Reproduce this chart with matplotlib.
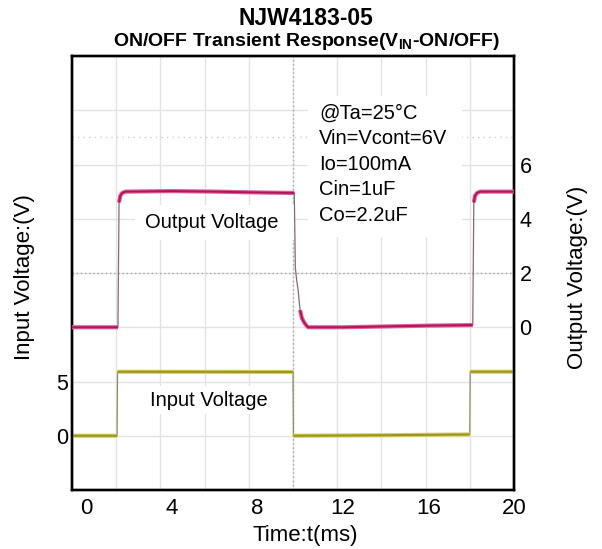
import matplotlib
matplotlib.use('Agg')
import matplotlib.pyplot as plt
import numpy as np
from matplotlib.patches import Rectangle

plt.rcParams['font.family'] = ['Liberation Sans', 'DejaVu Sans']
plt.rcParams['mathtext.fontset'] = 'custom'
plt.rcParams['mathtext.rm'] = 'Liberation Sans:bold'
plt.rcParams['mathtext.it'] = 'Liberation Sans:bold'
plt.rcParams['mathtext.bf'] = 'Liberation Sans:bold'

# scope traces (time in ms, volts)
out_t = [-0.68, 1.47, 1.52, 1.58, 1.67, 1.82, 4.0, 6.0, 8.0, 9.72, 9.77, 9.83, 9.90,
         9.99, 10.08, 10.18, 10.28, 10.37, 12.0, 14.0, 16.0, 18.07, 18.12, 18.18,
         18.27, 18.42, 20.0]
out_v = [0.0, 0.0, 4.6, 4.85, 4.95, 5.0, 5.02, 5.0, 4.97, 4.95, 2.2, 1.75, 1.36,
         0.63, 0.33, 0.18, 0.07, 0.0, 0.0, 0.03, 0.06, 0.08, 4.6, 4.85,
         4.95, 5.0, 5.0]

in_t = [-0.68, 1.43, 1.45, 9.66, 9.68, 14.0, 17.93, 17.95, 20.0]
in_v = [0.0, 0.0, 5.9, 5.88, 0.0, 0.05, 0.12, 5.9, 5.9]

x_ticks = [0, 4, 8, 12, 16, 20]
in_ticks = [0, 5]
out_ticks = [0, 2, 4, 6]

conditions = ['@Ta=25°C', 'Vin=Vcont=6V', 'Io=100mA', 'Cin=1uF', 'Co=2.2uF']


def split_trace(t, v, steep=5.0):
    # thick band on the flat parts, thin line on the fast edges
    t = np.asarray(t)
    v = np.asarray(v)
    thick_t, thick_v = [t[0]], [v[0]]
    for i in range(1, len(t)):
        slope = abs(v[i] - v[i - 1]) / (t[i] - t[i - 1])
        if slope > steep:
            thick_t.append(np.nan)
            thick_v.append(np.nan)
        thick_t.append(t[i])
        thick_v.append(v[i])
    return thick_t, thick_v


W, H = 602, 549
fig = plt.figure(figsize=(W / 100, H / 100), dpi=100)
pos = [72 / W, 59 / H, 442 / W, 434 / H]

# oscilloscope graticule: 10 x 8 divisions
gax = fig.add_axes(pos)
gax.set_xlim(0, 10)
gax.set_ylim(0, 8)
gax.set_xticks(range(11))
gax.set_yticks(range(9))
gax.grid(True, color='#e3e3e3', lw=1.0)
gax.tick_params(length=0, labelbottom=False, labelleft=False)
for s in gax.spines.values():
    s.set_visible(False)
gax.axvline(5, color='#a8a8a8', lw=1.0, ls=(0, (1, 2)))
gax.axhline(4, color='#a8a8a8', lw=1.0, ls=(0, (1, 2)))
gax.axhline(6.5, color='#d0d0d0', lw=1.0, ls=(0, (1, 3)))

ax = fig.add_axes(pos, facecolor='none')
ax.set_xlim(-0.68, 20.0)
ax.set_ylim(-5, 35)
ax.set_xticks(x_ticks)
ax.set_yticks(in_ticks)
ax.tick_params(axis='x', length=0, pad=6, labelsize=16)
ax.tick_params(axis='y', length=0, pad=3, labelsize=15.5)

ax2 = ax.twinx()
ax2.set_ylim(-6, 10)
ax2.set_yticks(out_ticks)
ax2.tick_params(axis='y', length=0, pad=4, labelsize=15.5)

for a in (ax, ax2):
    for s in a.spines.values():
        s.set_color('black')
        s.set_linewidth(1.7)

# white boxes behind the labels
for x0, y0, x1, y1 in [(135, 205, 294, 240), (308, 96, 462, 237), (144, 386, 275, 414)]:
    ax.add_patch(Rectangle((x0 / W, 1 - y1 / H), (x1 - x0) / W, (y1 - y0) / H,
                           transform=fig.transFigure, facecolor='white',
                           edgecolor='none', zorder=1))

# input trace
ax.plot(in_t, in_v, color='#8c8c6a', lw=0.9, zorder=3)
tt, vv = split_trace(in_t, in_v)
ax.plot(tt, vv, color='#d2ce60', lw=3.0, solid_capstyle='butt', zorder=4)
ax.plot(tt, vv, color='#9a9418', lw=1.4, solid_capstyle='butt', zorder=5)

# output trace
ax2.plot(out_t, out_v, color='#806a76', lw=0.9, zorder=3)
tt, vv = split_trace(out_t, out_v)
ax2.plot(tt, vv, color='#dc6098', lw=3.0, solid_capstyle='butt', zorder=4)
ax2.plot(tt, vv, color='#b3145a', lw=1.4, solid_capstyle='butt', zorder=5)

ax.text(145 / W, 1 - 222 / H, 'Output Voltage', transform=fig.transFigure,
        fontsize=14.5, ha='left', va='center', zorder=6)
ax.text(150 / W, 1 - 400 / H, 'Input Voltage', transform=fig.transFigure,
        fontsize=14.5, ha='left', va='center', zorder=6)
for i, line in enumerate(conditions):
    ax.text(319 / W, 1 - (113 + 25.5 * i) / H, line, transform=fig.transFigure,
            fontsize=14.5, ha='left', va='center', zorder=6)

fig.text(306 / W, 1 - 25 / H, 'NJW4183-05', ha='center', va='baseline',
         fontsize=16.5, fontweight='bold')
fig.text(306 / W, 1 - 46.5 / H, r'ON/OFF Transient Response(V$_{\mathrm{IN}}$-ON/OFF)',
         ha='center', va='baseline', fontsize=14, fontweight='bold')

fig.text(25 / W, 1 - 277 / H, 'Input Voltage:(V)', rotation=90,
         ha='center', va='center', fontsize=16)
fig.text(578 / W, 1 - 277 / H, 'Output Voltage:(V)', rotation=90,
         ha='center', va='center', fontsize=16)
fig.text(305 / W, 1 - 535 / H, 'Time:t(ms)', ha='center', va='center', fontsize=16)

fig.savefig('out.png', dpi=100)
